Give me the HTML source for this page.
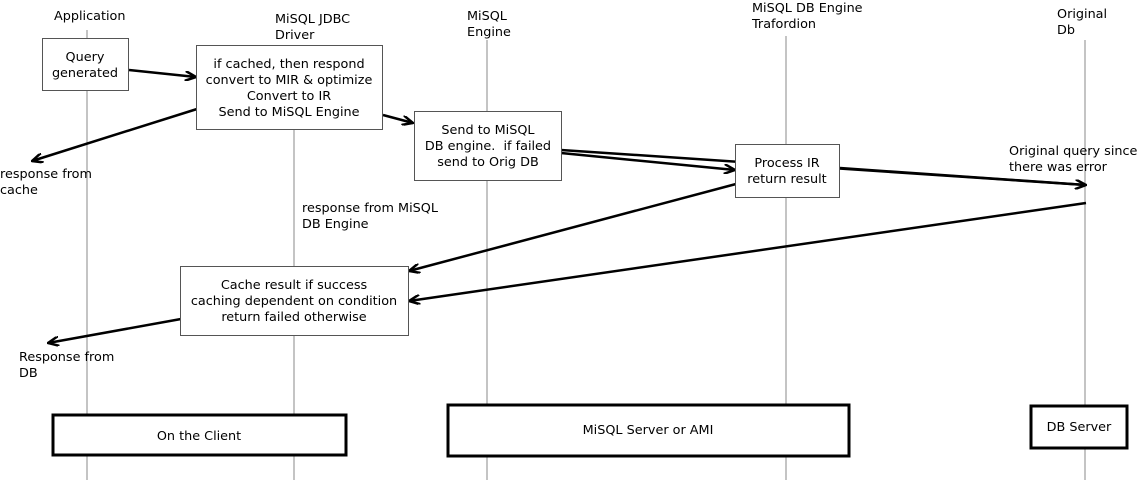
<!DOCTYPE html>
<html><head><style>
html,body{margin:0;padding:0;background:#fff;}
svg{display:block;font-family:"DejaVu Sans",sans-serif;font-size:12.8px;}
</style></head><body>
<svg width="1139" height="480" viewBox="0 0 1139 480">
<defs>
<marker id="a" markerWidth="12" markerHeight="10" refX="11" refY="5" orient="auto" markerUnits="userSpaceOnUse">
<path d="M0,0 L11,5 L0,10" fill="none" stroke="#000" stroke-width="2.5"/>
</marker>
</defs>
<g stroke="#888" stroke-width="1">
<line x1="87" y1="30" x2="87" y2="480"/>
<line x1="294" y1="45" x2="294" y2="480"/>
<line x1="487" y1="40" x2="487" y2="480"/>
<line x1="786" y1="36" x2="786" y2="480"/>
<line x1="1085" y1="40" x2="1085" y2="480"/>
</g>
<g fill="#000">
<text x="54" y="20">Application</text>
<text x="275" y="23">MiSQL JDBC</text><text x="275" y="39">Driver</text>
<text x="467" y="20">MiSQL</text><text x="467" y="36">Engine</text>
<text x="752" y="12">MiSQL DB Engine</text><text x="752" y="28">Trafordion</text>
<text x="1057" y="18">Original</text><text x="1057" y="34">Db</text>
</g>
<g stroke="#000" stroke-width="2.5" fill="none">
<line x1="561" y1="150" x2="1086" y2="185"/>
<line x1="129" y1="70" x2="196" y2="77" marker-end="url(#a)"/>
<line x1="197" y1="109" x2="32" y2="161" marker-end="url(#a)"/>
<line x1="383" y1="115" x2="413" y2="123" marker-end="url(#a)"/>
<line x1="561" y1="153" x2="735" y2="170" marker-end="url(#a)"/>
<line x1="840" y1="168" x2="1086" y2="185" marker-end="url(#a)"/>
<line x1="736" y1="184" x2="409" y2="271" marker-end="url(#a)"/>
<line x1="1086" y1="203" x2="409" y2="301" marker-end="url(#a)"/>
<line x1="181" y1="319" x2="48" y2="343" marker-end="url(#a)"/>
</g>
<g fill="#fff" stroke="#555" stroke-width="1">
<rect x="42.5" y="38.5" width="86" height="52"/>
<rect x="196.5" y="45.5" width="186" height="84"/>
<rect x="414.5" y="111.5" width="147" height="69"/>
<rect x="735.5" y="144.5" width="104" height="53"/>
<rect x="180.5" y="266.5" width="228" height="69"/>
</g>
<g text-anchor="middle" fill="#000">
<text x="85" y="61">Query</text><text x="85" y="77">generated</text>
<text x="289" y="68">if cached, then respond</text>
<text x="289" y="84">convert to MIR &amp; optimize</text>
<text x="289" y="100">Convert to IR</text>
<text x="289" y="116">Send to MiSQL Engine</text>
<text x="488" y="134">Send to MiSQL</text>
<text x="488" y="150">DB engine.&#160; if failed</text>
<text x="488" y="166">send to Orig DB</text>
<text x="787" y="167">Process IR</text><text x="787" y="183">return result</text>
<text x="294" y="289">Cache result if success</text>
<text x="294" y="305">caching dependent on condition</text>
<text x="294" y="321">return failed otherwise</text>
</g>
<g fill="#000">
<text x="0" y="178">response from</text><text x="0" y="194">cache</text>
<text x="302" y="212">response from MiSQL</text><text x="302" y="228">DB Engine</text>
<text x="1009" y="155">Original query since</text><text x="1009" y="171">there was error</text>
<text x="19" y="361">Response from</text><text x="19" y="377">DB</text>
</g>
<g fill="#fff" stroke="#000" stroke-width="3">
<rect x="53" y="415" width="293" height="40"/>
<rect x="448" y="405" width="401" height="51"/>
<rect x="1031" y="406" width="96" height="42"/>
</g>
<g text-anchor="middle" fill="#000">
<text x="199" y="440">On the Client</text>
<text x="648" y="434">MiSQL Server or AMI</text>
<text x="1079" y="431">DB Server</text>
</g>
</svg>
</body></html>
